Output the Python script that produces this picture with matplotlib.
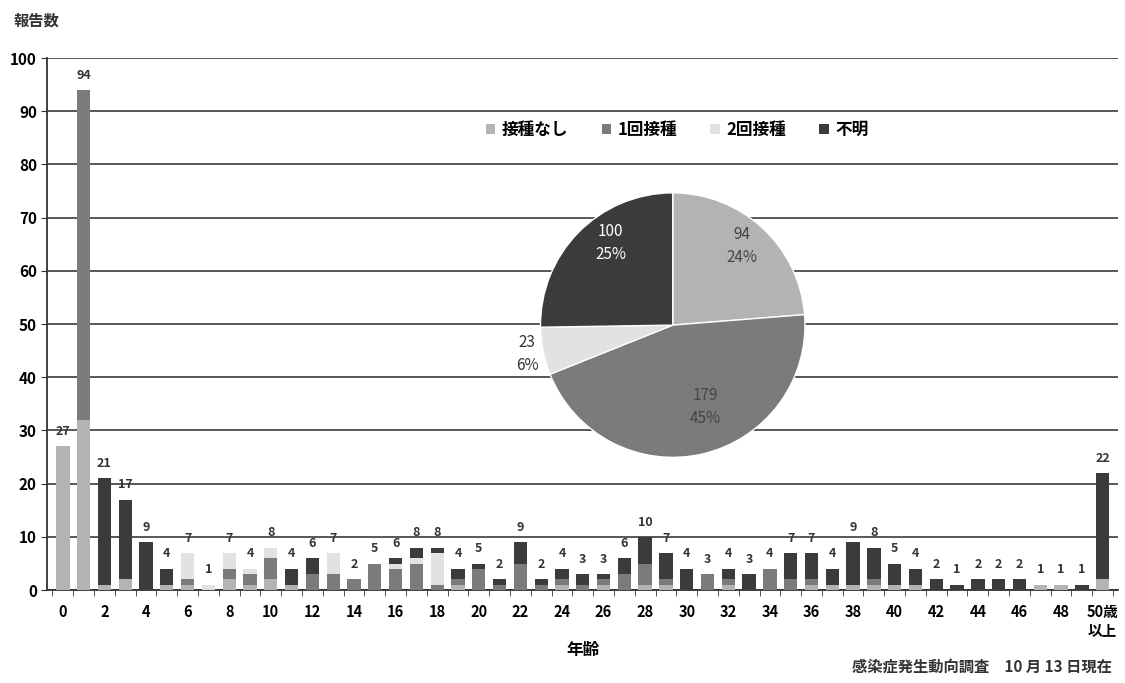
import numpy as np
import matplotlib
matplotlib.use('Agg')
import matplotlib.pyplot as plt
from matplotlib.patches import Patch

plt.rcParams['font.family'] = ['Noto Sans CJK JP', 'DejaVu Sans']

# age categories (0..49, then 50+)
ages = [str(a) for a in range(50)] + ['50歳\n以上']

# reports per age, split by vaccination status
none_vacc = [27, 32, 1, 2, 0, 1, 1, 0, 2, 1, 2, 1, 0, 0, 0, 0, 0, 0, 0, 1,
             0, 0, 0, 0, 1, 0, 1, 0, 1, 1, 0, 0, 1, 0, 0, 0, 1, 1, 1, 1,
             1, 1, 0, 0, 0, 0, 0, 1, 1, 0, 2]
one_dose = [0, 62, 0, 0, 0, 0, 1, 0, 2, 2, 4, 0, 3, 3, 2, 5, 4, 5, 1, 1,
            4, 1, 5, 1, 1, 1, 1, 3, 4, 1, 0, 3, 1, 0, 4, 2, 1, 0, 0, 1,
            0, 0, 0, 0, 0, 0, 0, 0, 0, 0, 0]
two_dose = [0, 0, 0, 0, 0, 0, 5, 1, 3, 1, 2, 0, 0, 4, 0, 0, 1, 1, 6, 0,
            0, 0, 0, 0, 0, 0, 0, 0, 0, 0, 0, 0, 0, 0, 0, 0, 0, 0, 0, 0,
            0, 0, 0, 0, 0, 0, 0, 0, 0, 0, 0]
unknown = [0, 0, 20, 15, 9, 3, 0, 0, 0, 0, 0, 3, 3, 0, 0, 0, 1, 2, 1, 2,
           1, 1, 4, 1, 2, 2, 1, 3, 5, 5, 4, 0, 2, 3, 0, 5, 5, 3, 8, 6,
           4, 3, 2, 1, 2, 2, 2, 0, 0, 1, 20]

series_names = ['接種なし', '1回接種', '2回接種', '不明']
series_colors = ['#b3b3b3', '#7b7b7b', '#e2e2e2', '#3b3b3b']

# pie: totals by status
pie_values = [94, 179, 23, 100]

fig = plt.figure(figsize=(11.25, 6.83), dpi=100)
ax = fig.add_axes([0.042, 0.136, 0.952, 0.779])

x = np.arange(len(ages))
bottom = np.zeros(len(ages))
for vals, col in zip([none_vacc, one_dose, two_dose, unknown], series_colors):
    vals = np.array(vals, dtype=float)
    ax.bar(x, vals, bottom=bottom, width=0.64, color=col, zorder=3)
    bottom += vals

totals = bottom
for xi, t in zip(x, totals):
    ax.annotate(f'{int(t)}', (xi, t), xytext=(0, 6), textcoords='offset points',
                ha='center', va='bottom', fontsize=9, fontweight='bold',
                color='#333333')

ax.set_ylim(0, 100)
ax.set_xlim(-0.75, len(ages) - 0.25)
ax.set_yticks(range(0, 101, 10))
ax.yaxis.grid(True, color='#4a4a4a', linewidth=1.3, zorder=0)
ax.tick_params(axis='y', labelsize=11, length=4, color='#333333')
for lab in ax.get_yticklabels():
    lab.set_fontweight('bold')

major = list(range(0, len(ages), 2))
ax.set_xticks(major)
ax.set_xticklabels([ages[i] for i in major], fontsize=10.5, fontweight='bold',
                   va='top')
ax.tick_params(axis='x', length=0, pad=10)
ax.set_xticks(np.arange(-0.5, len(ages), 1), minor=True)
ax.tick_params(axis='x', which='minor', length=4, direction='out', color='#333333')

for s in ['top', 'right']:
    ax.spines[s].set_visible(False)
ax.spines['left'].set_color('#333333')
ax.spines['bottom'].set_color('#333333')
ax.spines['left'].set_linewidth(1.3)
ax.spines['bottom'].set_linewidth(1.3)

ax.set_xlabel('年齢', fontsize=12, fontweight='bold', labelpad=2)
fig.text(0.012, 0.962, '報告数', fontsize=11, fontweight='bold', color='#333333')
fig.text(0.988, 0.012, '感染症発生動向調査　10 月 13 日現在', fontsize=11,
         fontweight='bold', ha='right', va='bottom', color='#333333')

handles = [Patch(facecolor=c, edgecolor='none') for c in series_colors]
fig.legend(handles, series_names, loc='center', bbox_to_anchor=(0.602, 0.81),
           ncol=4, frameon=False, handlelength=0.55,
           handleheight=0.55, handletextpad=0.4, columnspacing=2.0,
           prop={'weight': 'bold', 'size': 12})

# pie inset
pax = fig.add_axes([0.478, 0.3265, 0.24, 0.395])
wedges, _ = pax.pie(pie_values, colors=series_colors, startangle=90,
                    counterclock=False,
                    wedgeprops=dict(edgecolor='white', linewidth=1))
total = sum(pie_values)
label_pos = [(0.52, 0.6), (0.25, -0.62), (-1.1, -0.22), (-0.47, 0.62)]
label_cols = ['#444444', '#444444', '#333333', 'white']
for v, (px, py), c in zip(pie_values, label_pos, label_cols):
    pax.text(px, py, f'{v}\n{round(100 * v / total)}%', ha='center', va='center',
             fontsize=11, color=c, linespacing=1.5)
pax.set_xlim(-1.02, 1.02)
pax.set_ylim(-1.02, 1.02)
pax.set_aspect('equal')

fig.savefig('out.png', dpi=100)
